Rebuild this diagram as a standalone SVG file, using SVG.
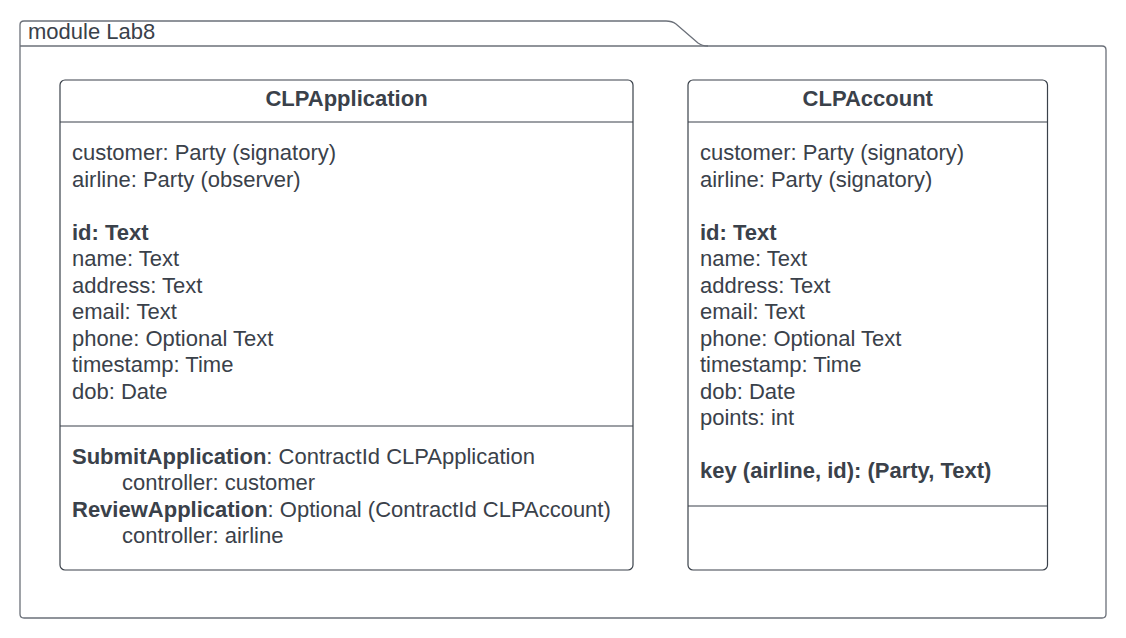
<svg xmlns="http://www.w3.org/2000/svg" width="1126" height="638" viewBox="0 0 1126 638">
<style>
.frame{fill:#ffffff;stroke:#6b7079;stroke-width:1.3}
.box{fill:#ffffff;stroke:#3a414a;stroke-width:1.2}
.div{stroke:#3a414a;stroke-width:1.2}
text{font-family:"Liberation Sans",Arial,sans-serif;font-size:22px;fill:#3a414a}
.t{font-weight:bold;text-anchor:middle}
.b{font-weight:bold}
</style>
<rect width="1126" height="638" fill="#ffffff"/>
<g id="module-Lab8">
<path class="frame" d="M24,21 H666 Q672,21 676,24 L698,43 Q702,46 708,46 H1102 Q1106,46 1106,50 V614 Q1106,618 1102,618 H24 Q20,618 20,614 V25 Q20,21 24,21 Z"/>
<line class="frame" x1="20" y1="46" x2="708" y2="46"/>
<text x="28" y="39">module Lab8</text>
</g>
<g id="CLPApplication">
<rect class="box" x="60" y="80" width="573" height="490" rx="5"/>
<line class="div" x1="60" y1="122" x2="633" y2="122"/>
<line class="div" x1="60" y1="426" x2="633" y2="426"/>
<text class="t" x="346.5" y="106">CLPApplication</text>
<text x="72" y="160">customer: Party (signatory)</text>
<text x="72" y="186.5">airline: Party (observer)</text>
<text x="72" y="239.5" class="b">id: Text</text>
<text x="72" y="266">name: Text</text>
<text x="72" y="292.5">address: Text</text>
<text x="72" y="319">email: Text</text>
<text x="72" y="345.5">phone: Optional Text</text>
<text x="72" y="372">timestamp: Time</text>
<text x="72" y="398.5">dob: Date</text>
<text x="72" y="463.5"><tspan class="b">SubmitApplication</tspan>: ContractId CLPApplication</text>
<text x="122" y="490">controller: customer</text>
<text x="72" y="516.5"><tspan class="b">ReviewApplication</tspan>: Optional (ContractId CLPAccount)</text>
<text x="122" y="543">controller: airline</text>
</g>
<g id="CLPAccount">
<rect class="box" x="688" y="80" width="359.5" height="490" rx="5"/>
<line class="div" x1="688" y1="122" x2="1047.5" y2="122"/>
<line class="div" x1="688" y1="506" x2="1047.5" y2="506"/>
<text class="t" x="867.75" y="106">CLPAccount</text>
<text x="700" y="160">customer: Party (signatory)</text>
<text x="700" y="186.5">airline: Party (signatory)</text>
<text x="700" y="239.5" class="b">id: Text</text>
<text x="700" y="266">name: Text</text>
<text x="700" y="292.5">address: Text</text>
<text x="700" y="319">email: Text</text>
<text x="700" y="345.5">phone: Optional Text</text>
<text x="700" y="372">timestamp: Time</text>
<text x="700" y="398.5">dob: Date</text>
<text x="700" y="425">points: int</text>
<text x="700" y="478" class="b">key (airline, id): (Party, Text)</text>
</g>
<g id="connectors"></g>
</svg>
